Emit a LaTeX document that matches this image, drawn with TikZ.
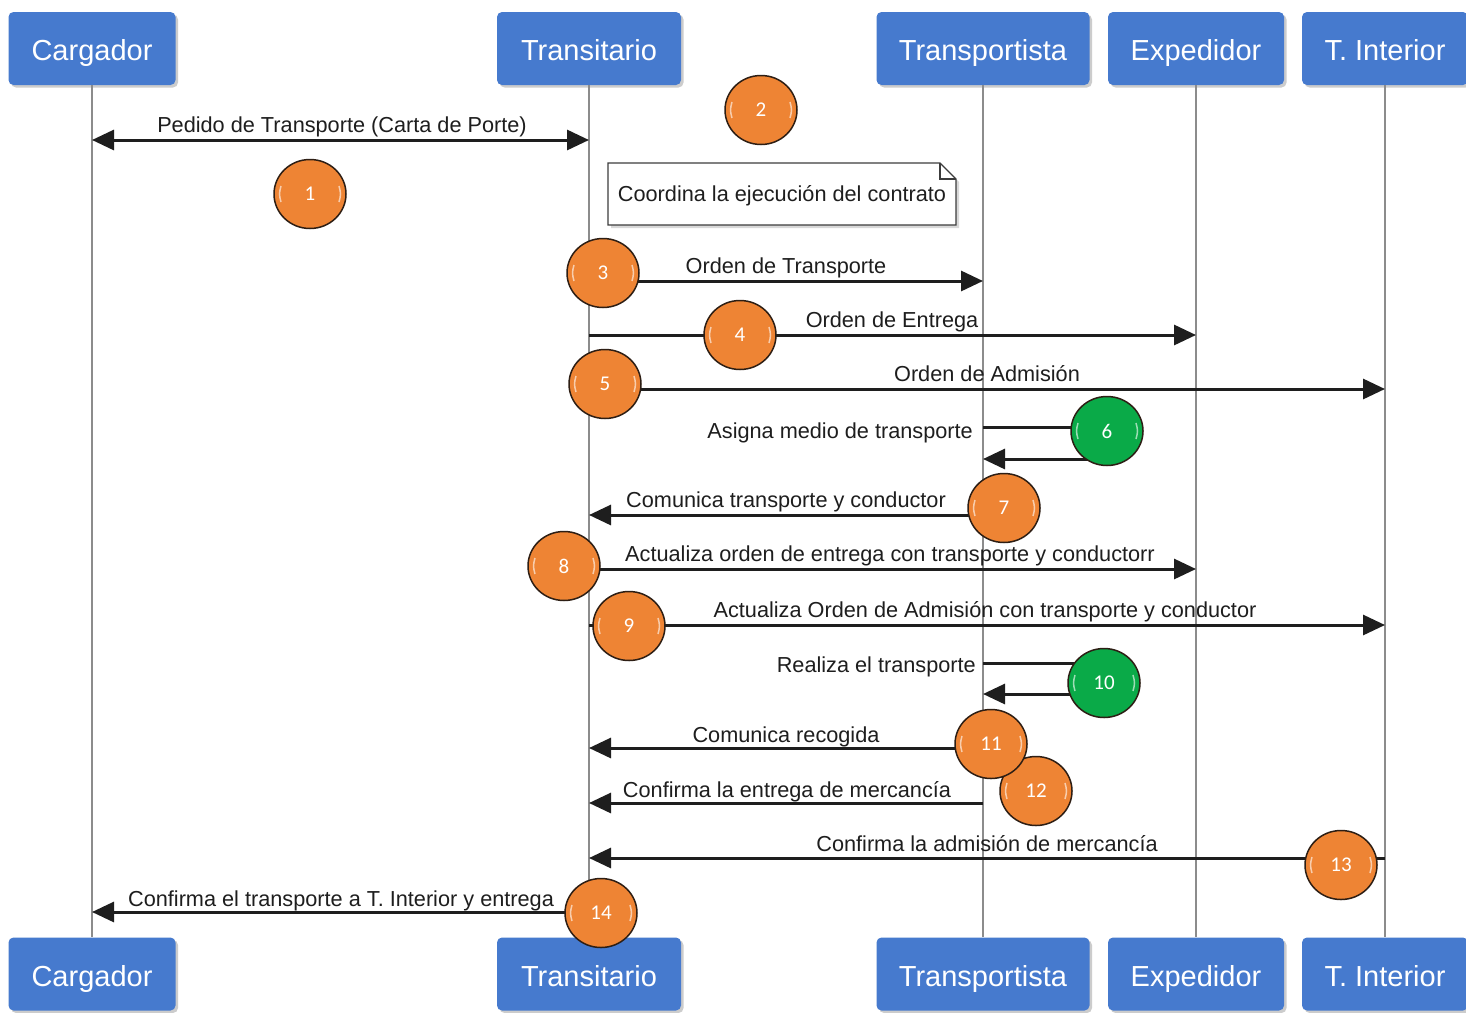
\documentclass[tikz,border=0pt]{standalone}
\usepackage{fontspec}
\setmainfont{Liberation Sans}
\newfontfamily\numfont{Carlito}
\usetikzlibrary{arrows.meta,shapes.geometric,shadows}
\definecolor{hdrblue}{RGB}{70,122,206}
\definecolor{lifegray}{RGB}{140,140,140}
\definecolor{msgblack}{RGB}{30,30,30}
\definecolor{orangeball}{RGB}{238,132,52}
\definecolor{greenball}{RGB}{10,170,72}
\definecolor{ballline}{RGB}{45,30,20}
\definecolor{noteline}{RGB}{60,60,60}
\begin{document}
\begin{tikzpicture}[x=1pt,y=-1pt,
  hdr/.style={fill=hdrblue, rounded corners=5pt, minimum height=73pt, text=white,
    font=\fontsize{29}{31}\selectfont, inner sep=0pt, text height=24pt, text depth=0pt,
    drop shadow={shadow xshift=2.5pt, shadow yshift=-2.5pt, opacity=0.4}},
  life/.style={draw=lifegray, line width=2.5pt},
  msg/.style={draw=msgblack, line width=3pt, -{Triangle[length=22pt,width=20pt]}},
  lbl/.style={font=\fontsize{21.7}{24}\selectfont, text=msgblack, inner sep=0pt, anchor=base},
  ball/.style={ellipse, draw=ballline, line width=1.5pt, minimum width=72pt, minimum height=69pt,
    inner sep=0pt, text=white, font=\numfont\fontsize{21}{23}\selectfont,
    path picture={
      \draw[white, opacity=0.6, line width=1.5pt]
        ([shift={(-29,-8)}]path picture bounding box.center)
          .. controls ([shift={(-31,0)}]path picture bounding box.center)
          .. ([shift={(-29,8)}]path picture bounding box.center)
        ([shift={(29,-8)}]path picture bounding box.center)
          .. controls ([shift={(31,0)}]path picture bounding box.center)
          .. ([shift={(29,8)}]path picture bounding box.center);}},
  oball/.style={ball, fill=orangeball},
  gball/.style={ball, fill=greenball},
]
\useasboundingbox (0,0) rectangle (1466,1012);
\fill[white] (0,0) rectangle (1466,1012);

% headers
\node[hdr, minimum width=167pt] (carT) at (92,48.5) {Cargador};
\node[hdr, minimum width=184pt] (traT) at (589,48.5) {Transitario};
\node[hdr, minimum width=213pt] (tptT) at (983,48.5) {Transportista};
\node[hdr, minimum width=176pt] (expT) at (1196,48.5) {Expedidor};
\node[hdr, minimum width=166pt] (intT) at (1385,48.5) {T. Interior};
\node[hdr, minimum width=167pt] (carB) at (92,974) {Cargador};
\node[hdr, minimum width=184pt] (traB) at (589,974) {Transitario};
\node[hdr, minimum width=213pt] (tptB) at (983,974) {Transportista};
\node[hdr, minimum width=176pt] (expB) at (1196,974) {Expedidor};
\node[hdr, minimum width=166pt] (intB) at (1385,974) {T. Interior};

% lifelines
\draw[life] (carT.south) -- (carB.north);
\draw[life] (traT.south) -- (traB.north);
\draw[life] (tptT.south) -- (tptB.north);
\draw[life] (expT.south) -- (expB.north);
\draw[life] (intT.south) -- (intB.north);

% note
\path[draw=noteline, line width=1.2pt, fill=white,
  drop shadow={shadow xshift=3pt, shadow yshift=-3pt, opacity=0.3}]
  (608,163) -- (940,163) -- (956,179) -- (956,225) -- (608,225) -- cycle;
\draw[noteline, line width=1.2pt] (940,163) -- (940,179) -- (956,179);
\node[lbl, anchor=center] (note) at (782,196) {Coordina la ejecución del contrato};

% message anchor coordinates
\coordinate (car1) at (92,140);   \coordinate (tra1) at (589,140);
\coordinate (tra3) at (589,281);  \coordinate (tpt3) at (983,281);
\coordinate (tra4) at (589,335);  \coordinate (exp4) at (1196,335);
\coordinate (tra5) at (589,389);  \coordinate (int5) at (1385,389);
\coordinate (tpt6a) at (983,427); \coordinate (s6a) at (1090,427);
\coordinate (s6b) at (1090,459);  \coordinate (tpt6b) at (983,459);
\coordinate (tpt7) at (983,515);  \coordinate (tra7) at (589,515);
\coordinate (tra8) at (589,569);  \coordinate (exp8) at (1196,569);
\coordinate (tra9) at (589,625);  \coordinate (int9) at (1385,625);
\coordinate (tpt10a) at (983,663); \coordinate (s10a) at (1090,663);
\coordinate (s10b) at (1090,694); \coordinate (tpt10b) at (983,694);
\coordinate (tpt11) at (983,748); \coordinate (tra11) at (589,748);
\coordinate (tpt12) at (983,803); \coordinate (tra12) at (589,803);
\coordinate (int13) at (1385,858); \coordinate (tra13) at (589,858);
\coordinate (tra14) at (589,912); \coordinate (car14) at (92,912);

% messages
\draw[msg, {Triangle[length=22pt,width=20pt]}-{Triangle[length=22pt,width=20pt]}] (car1) -- (tra1);
\draw[msg] (tra3) -- (tpt3);
\draw[msg] (tra4) -- (exp4);
\draw[msg] (tra5) -- (int5);
\draw[msg] (tpt6a) -- (s6a) -- (s6b) -- (tpt6b);
\draw[msg] (tpt7) -- (tra7);
\draw[msg] (tra8) -- (exp8);
\draw[msg] (tra9) -- (int9);
\draw[msg] (tpt10a) -- (s10a) -- (s10b) -- (tpt10b);
\draw[msg] (tpt11) -- (tra11);
\draw[msg] (tpt12) -- (tra12);
\draw[msg] (int13) -- (tra13);
\draw[msg] (tra14) -- (car14);

% labels
\node[lbl] (l1) at (342,132) {Pedido de Transporte (Carta de Porte)};
\node[lbl] (l3) at (786,273) {Orden de Transporte};
\node[lbl] (l4) at (892,327) {Orden de Entrega};
\node[lbl] (l5) at (987,381) {Orden de Admisión};
\node[lbl, anchor=base east] (l6) at (973,438) {Asigna medio de transporte};
\node[lbl] (l7) at (786,507) {Comunica transporte y conductor};
\node[lbl] (l8) at (890,561) {Actualiza orden de entrega con transporte y conductorr};
\node[lbl] (l9) at (985,617) {Actualiza Orden de Admisión con transporte y conductor};
\node[lbl, anchor=base east] (l10) at (976,672) {Realiza el transporte};
\node[lbl] (l11) at (786,742) {Comunica recogida};
\node[lbl] (l12) at (787,797) {Confirma la entrega de mercancía};
\node[lbl] (l13) at (987,851) {Confirma la admisión de mercancía};
\node[lbl] (l14) at (341,906) {Confirma el transporte a T. Interior y entrega};

% numbered balls
\node[oball] (b1) at (310,194) {1};
\node[oball] (b2) at (761,110) {2};
\node[oball] (b3) at (603,273) {3};
\node[oball] (b4) at (740,335) {4};
\node[oball] (b5) at (605,384) {5};
\node[gball] (b6) at (1107,431) {6};
\node[oball] (b7) at (1004,508) {7};
\node[oball] (b8) at (564,566) {8};
\node[oball] (b9) at (629,626) {9};
\node[gball] (b10) at (1104,683) {10};
\node[oball] (b12) at (1036,791) {12};
\node[oball] (b11) at (991,744) {11};
\node[oball] (b13) at (1341,865) {13};
\node[oball] (b14) at (601,913) {14};
\end{tikzpicture}
\end{document}
